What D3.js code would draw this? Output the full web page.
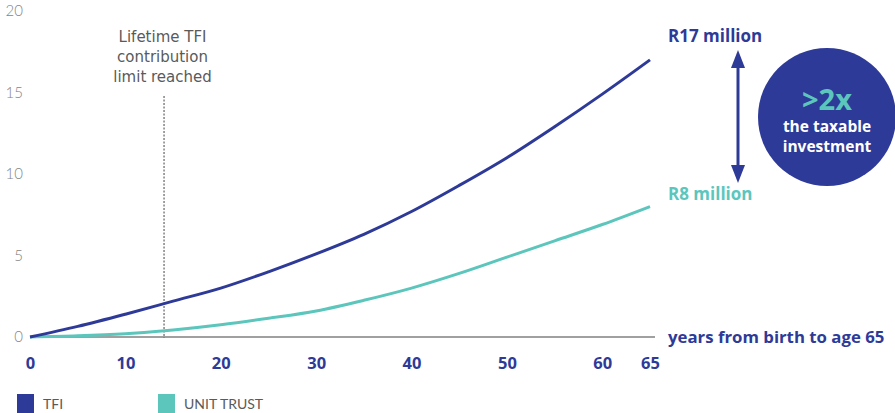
<!DOCTYPE html>
<html>
<head>
<meta charset="utf-8">
<script src="https://cdn.jsdelivr.net/npm/d3@7"></script>
<style>
  html, body { margin: 0; padding: 0; background: #fff; }
  svg { display: block; }
  text { font-family: "Open Sans", Lato, sans-serif; }
</style>
</head>
<body>
<svg id="chart" width="895" height="413"></svg>
<script>
// Projected value of an investment from birth to age 65 (R million)
const years = [0, 5, 10, 15, 20, 25, 30, 35, 40, 45, 50, 55, 60, 65];
const tfiValues = [0, 0.65, 1.4, 2.2, 3.0, 4.0, 5.1, 6.3, 7.7, 9.3, 11.0, 12.9, 14.9, 17];
const unitTrustValues = [0, 0.07, 0.2, 0.43, 0.75, 1.15, 1.6, 2.25, 3.0, 3.9, 4.9, 5.9, 6.9, 8];
const xTicks = [0, 10, 20, 30, 40, 50, 60, 65];
const yTicks = [0, 5, 10, 15, 20];
const limitYear = 14;
const seriesNames = ["TFI", "UNIT TRUST"];
const endLabels = ["R17 million", "R8 million"];
const xAxisTitle = "years from birth to age 65";
const noteLines = ["Lifetime TFI", "contribution", "limit reached"];
const bubbleLines = [">2x", "the taxable", "investment"];

const navy = "#2e3a97";
const teal = "#5cc6bd";
const boldFont = "\"Open Sans\", Lato, sans-serif";

const svg = d3.select("#chart");
const x = d3.scaleLinear().domain([0, 65]).range([30, 650]);
const y = d3.scaleLinear().domain([0, 20]).range([337, 11]);

// y axis labels
const yAxis = svg.append("g")
  .attr("transform", "translate(23,0)")
  .call(d3.axisLeft(y).tickValues(yTicks).tickSize(0).tickPadding(0));
yAxis.select(".domain").remove();
yAxis.selectAll("text")
  .attr("fill", "#858585")
  .style("font-family", "Lato, sans-serif")
  .style("font-size", "15px")
  .style("font-weight", "300");

// x axis labels
const xAxis = svg.append("g")
  .attr("transform", `translate(0,${y(0)})`)
  .call(d3.axisBottom(x).tickValues(xTicks).tickSize(0).tickPadding(20));
xAxis.select(".domain").remove();
xAxis.selectAll("text")
  .attr("fill", navy)
  .style("font-family", boldFont)
  .style("font-size", "16.5px")
  .style("font-weight", "700");

// baseline
svg.append("line")
  .attr("x1", x(0)).attr("x2", x(65) + 5)
  .attr("y1", y(0)).attr("y2", y(0))
  .attr("stroke", "#a0a0a0").attr("stroke-width", 2);

svg.append("text")
  .attr("x", 668).attr("y", y(0))
  .attr("dy", "0.35em")
  .attr("fill", navy)
  .style("font-size", "16.8px")
  .style("font-weight", "700")
  .text(xAxisTitle);

// contribution limit marker
svg.append("line")
  .attr("x1", x(limitYear) + 0.5).attr("x2", x(limitYear) + 0.5)
  .attr("y1", 96).attr("y2", y(0) + 1)
  .attr("stroke", "#444").attr("stroke-width", 1)
  .attr("stroke-dasharray", "2,1.5");

const note = svg.append("text")
  .attr("text-anchor", "middle")
  .attr("fill", "#5a5a5a")
  .style("font-family", "\"DejaVu Sans\", sans-serif")
  .style("font-size", "15px");
noteLines.forEach((t, i) => {
  note.append("tspan").attr("x", x(limitYear) - 1).attr("y", 42 + i * 20).text(t);
});

// series lines
const line = d3.line()
  .x((d, i) => x(years[i]))
  .y(d => y(d))
  .curve(d3.curveCatmullRom);

svg.append("path").datum(unitTrustValues)
  .attr("d", line).attr("fill", "none")
  .attr("stroke", teal).attr("stroke-width", 3);
svg.append("path").datum(tfiValues)
  .attr("d", line).attr("fill", "none")
  .attr("stroke", navy).attr("stroke-width", 3);

// end value labels
svg.append("text")
  .attr("x", 668).attr("y", 36).attr("dy", "0.35em")
  .attr("fill", navy)
  .style("font-size", "17px").style("font-weight", "700")
  .text(endLabels[0]);
svg.append("text")
  .attr("x", 668).attr("y", 194).attr("dy", "0.35em")
  .attr("fill", teal)
  .style("font-size", "17px").style("font-weight", "700")
  .text(endLabels[1]);

// double-headed arrow between the two outcomes
const ax = 738;
svg.append("line")
  .attr("x1", ax).attr("x2", ax)
  .attr("y1", 62).attr("y2", 172)
  .attr("stroke", navy).attr("stroke-width", 3);
svg.append("path")
  .attr("d", `M${ax},50 L${ax - 7},68 L${ax + 7},68 Z`)
  .attr("fill", navy);
svg.append("path")
  .attr("d", `M${ax},183 L${ax - 7},165 L${ax + 7},165 Z`)
  .attr("fill", navy);

// ratio bubble
svg.append("circle")
  .attr("cx", 827).attr("cy", 117).attr("r", 69)
  .attr("fill", navy);
svg.append("text")
  .attr("x", 827).attr("y", 100).attr("dy", "0.35em")
  .attr("text-anchor", "middle")
  .attr("fill", teal)
  .style("font-size", "29px").style("font-weight", "700")
  .text(bubbleLines[0]);
svg.append("text")
  .attr("x", 827).attr("y", 127).attr("dy", "0.35em")
  .attr("text-anchor", "middle")
  .attr("fill", "#fff")
  .style("font-size", "15.5px").style("font-weight", "700")
  .text(bubbleLines[1]);
svg.append("text")
  .attr("x", 827).attr("y", 147).attr("dy", "0.35em")
  .attr("text-anchor", "middle")
  .attr("fill", "#fff")
  .style("font-size", "15.5px").style("font-weight", "700")
  .text(bubbleLines[2]);

// legend
const legendX = [17, 158];
const legendColors = [navy, teal];
seriesNames.forEach((name, i) => {
  svg.append("rect")
    .attr("x", legendX[i]).attr("y", 394)
    .attr("width", 17).attr("height", 19)
    .attr("fill", legendColors[i]);
  svg.append("text")
    .attr("x", legendX[i] + 26).attr("y", 404).attr("dy", "0.35em")
    .attr("fill", "#5a5a5a")
    .style("font-family", "Lato, sans-serif")
    .style("font-size", "14px")
    .text(name);
});
</script>
</body>
</html>
